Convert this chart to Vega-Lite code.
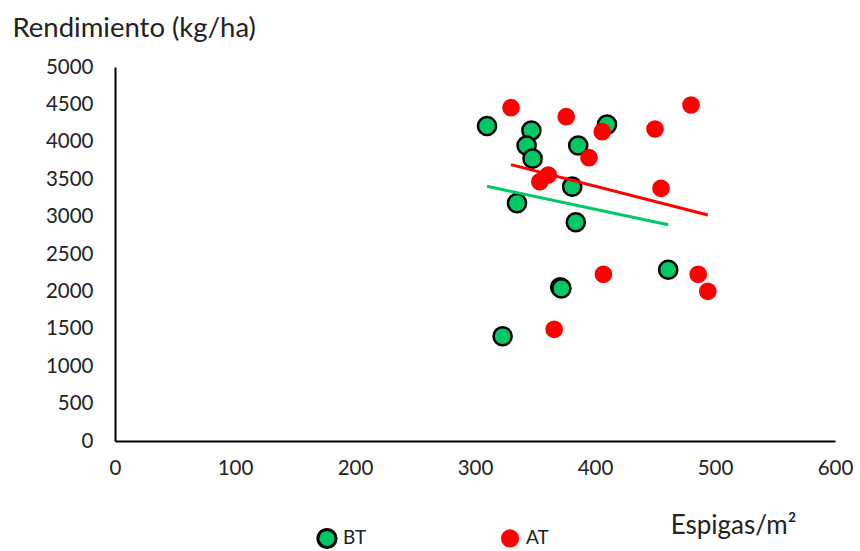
{
  "$schema": "https://vega.github.io/schema/vega-lite/v6.json",
  "autosize": "none",
  "padding": {"left": 115, "top": 67, "right": 25, "bottom": 110},
  "width": 720,
  "height": 374,
  "config": {
    "view": {"stroke": null},
    "font": "Lato",
    "axis": {
      "grid": false,
      "ticks": false,
      "domainColor": "#000000",
      "domainWidth": 2,
      "labelFont": "Lato",
      "labelFontSize": 20.5,
      "labelColor": "#222222",
      "labelOverlap": false,
      "labelFlush": false,
      "titleFont": "Lato",
      "titleFontSize": 26,
      "titleFontWeight": "normal",
      "titleColor": "#222222"
    },
    "legend": {
      "labelFont": "Lato",
      "labelFontSize": 19,
      "labelColor": "#222222"
    }
  },
  "datasets": {
    "pts": [
      {"g": "BT", "x": 310, "y": 4211},
      {"g": "BT", "x": 347, "y": 4150},
      {"g": "BT", "x": 343, "y": 3950},
      {"g": "BT", "x": 348, "y": 3775},
      {"g": "BT", "x": 386, "y": 3950},
      {"g": "BT", "x": 410, "y": 4230},
      {"g": "BT", "x": 381, "y": 3400},
      {"g": "BT", "x": 335, "y": 3180},
      {"g": "BT", "x": 384, "y": 2925},
      {"g": "BT", "x": 461, "y": 2290},
      {"g": "BT", "x": 371, "y": 2055},
      {"g": "BT", "x": 372, "y": 2040},
      {"g": "BT", "x": 323, "y": 1400},
      {"g": "AT", "x": 330, "y": 4456},
      {"g": "AT", "x": 376, "y": 4336},
      {"g": "AT", "x": 480, "y": 4492},
      {"g": "AT", "x": 450, "y": 4171},
      {"g": "AT", "x": 406, "y": 4135},
      {"g": "AT", "x": 395, "y": 3788},
      {"g": "AT", "x": 361, "y": 3556},
      {"g": "AT", "x": 354, "y": 3467},
      {"g": "AT", "x": 455, "y": 3378},
      {"g": "AT", "x": 407, "y": 2228},
      {"g": "AT", "x": 486, "y": 2228},
      {"g": "AT", "x": 494, "y": 2001},
      {"g": "AT", "x": 366, "y": 1493}
    ],
    "trend": [
      {"g": "BT", "x": 310, "y": 3405},
      {"g": "BT", "x": 461, "y": 2890},
      {"g": "AT", "x": 330, "y": 3695},
      {"g": "AT", "x": 494, "y": 3022}
    ]
  },
  "encoding": {
    "x": {
      "field": "x", "type": "quantitative",
      "scale": {"domain": [0, 600], "nice": false},
      "axis": {
        "values": [0, 100, 200, 300, 400, 500, 600],
        "format": "d",
        "labelOverlap": false,
        "labelPadding": 17,
        "title": "Espigas/m²",
        "titleAnchor": null,
        "titleX": 618,
        "titleY": 84,
        "titleAlign": "center",
        "titleBaseline": "middle"
      }
    },
    "y": {
      "field": "y", "type": "quantitative",
      "scale": {"domain": [0, 5000], "nice": false},
      "axis": {
        "values": [0, 500, 1000, 1500, 2000, 2500, 3000, 3500, 4000, 4500, 5000],
        "tickCount": 11,
        "format": "d",
        "labelOverlap": false,
        "labelPadding": 22,
        "title": "Rendimiento (kg/ha)",
        "titleFontSize": 27.5,
        "titleAngle": 0,
        "titleX": -103,
        "titleY": -39,
        "titleAlign": "left",
        "titleBaseline": "middle"
      }
    }
  },
  "layer": [
    {
      "data": {"name": "pts"},
      "mark": {"type": "point", "filled": true, "strokeWidth": 2.5, "opacity": 1},
      "encoding": {
        "color": {
          "field": "g", "type": "nominal",
          "scale": {"domain": ["BT", "AT"], "range": ["#00C864", "#FF0000"]},
          "legend": {
            "title": null,
            "orient": "none",
            "legendX": 201,
            "legendY": 460,
            "direction": "horizontal",
            "columns": 2,
            "columnPadding": 129,
            "symbolSize": 140,
            "symbolStrokeWidth": 3,
            "labelOffset": 5
          }
        },
        "stroke": {
          "field": "g", "type": "nominal",
          "scale": {"domain": ["BT", "AT"], "range": ["#000000", "#FF0000"]}
        },
        "size": {
          "field": "g", "type": "nominal",
          "scale": {"domain": ["BT", "AT"], "range": [330, 230]},
          "legend": null
        }
      }
    },
    {
      "data": {"name": "trend"},
      "transform": [{"filter": "datum.g === 'BT'"}],
      "mark": {"type": "line", "color": "#00C864", "strokeWidth": 3},
      "encoding": {}
    },
    {
      "data": {"name": "trend"},
      "transform": [{"filter": "datum.g === 'AT'"}],
      "mark": {"type": "line", "color": "#FF0000", "strokeWidth": 3},
      "encoding": {}
    }
  ]
}
